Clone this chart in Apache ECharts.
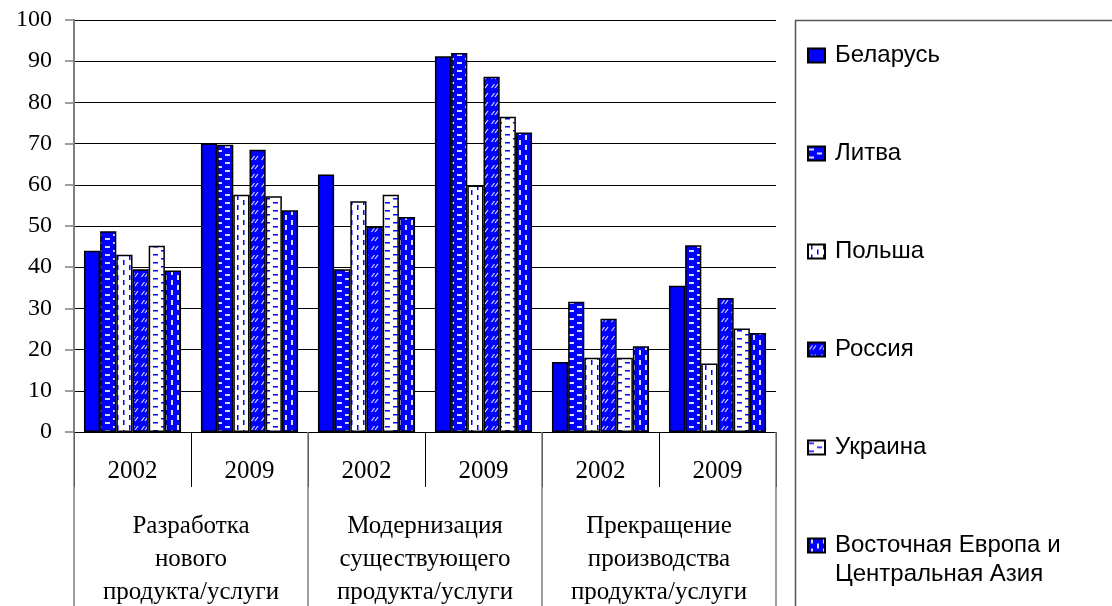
<!DOCTYPE html>
<html>
<head>
<meta charset="utf-8">
<script src="https://cdn.jsdelivr.net/npm/echarts@6/dist/echarts.min.js"></script>
<style>
  html, body { margin: 0; padding: 0; background: #fff; }
  #chart { width: 1112px; height: 606px; }
</style>
</head>
<body>
<div id="chart"></div>
<script>
// Survey years (inner axis) and activity groups (outer axis)
const years = ['2002', '2009', '2002', '2009', '2002', '2009'];
const groups = [
  'Разработка\nнового\nпродукта/услуги',
  'Модернизация\nсуществующего\nпродукта/услуги',
  'Прекращение\nпроизводства\nпродукта/услуги'
];
const countries = ['Беларусь', 'Литва', 'Польша', 'Россия', 'Украина', 'Восточная Европа и Центральная Азия'];

// Share of firms, %
const belarus   = [44.0, 70.0, 62.5, 91.2, 17.0, 35.5];
const lithuania = [48.7, 69.7, 39.5, 92.0, 31.6, 45.3];
const poland    = [43.0, 57.6, 56.0, 59.8, 18.0, 16.6];
const russia    = [39.5, 68.5, 49.8, 86.2, 27.5, 32.5];
const ukraine   = [45.2, 57.2, 57.6, 76.5, 18.0, 25.1];
const eeca      = [39.2, 53.8, 52.2, 72.7, 20.8, 24.0];

const yMin = 0, yMax = 100, yStep = 10;

const BLUE = '#0000ff';
const LIGHT = '#dcdcff';

// Small repeating fill tiles for the hatched bars
function tile(w, h, bg, draw) {
  const c = document.createElement('canvas');
  c.width = w; c.height = h;
  const g = c.getContext('2d');
  g.fillStyle = bg;
  g.fillRect(0, 0, w, h);
  draw(g);
  return { image: c, repeat: 'repeat' };
}

const fills = [
  BLUE,
  // white horizontal dashes on blue, staggered
  tile(16, 8, BLUE, g => {
    g.fillStyle = LIGHT;
    g.fillRect(1, 2, 5, 2);
    g.fillRect(9, 6, 5, 2);
  }),
  // blue vertical dashes on white
  tile(12, 10, '#fff', g => {
    g.fillStyle = BLUE;
    g.fillRect(3, 0, 1.5, 5);
    g.fillRect(9, 5, 1.5, 5);
  }),
  // white short slashes on blue
  tile(10, 9, BLUE, g => {
    g.strokeStyle = LIGHT;
    g.lineWidth = 1.2;
    g.beginPath();
    g.moveTo(1.5, 7); g.lineTo(4.5, 3);
    g.moveTo(5, 7); g.lineTo(8, 3);
    g.stroke();
  }),
  // blue horizontal dashes on white, staggered
  tile(16, 8, '#fff', g => {
    g.fillStyle = BLUE;
    g.fillRect(1, 2, 5, 1.5);
    g.fillRect(9, 6, 5, 1.5);
  }),
  // white vertical dashes on blue
  tile(12, 10, BLUE, g => {
    g.fillStyle = LIGHT;
    g.fillRect(3, 0, 2, 5);
    g.fillRect(9, 5, 2, 5);
  })
];

const values = [belarus, lithuania, poland, russia, ukraine, eeca];

const serif = "'Liberation Serif', 'Times New Roman', serif";
const sans = "'Liberation Sans', Arial, sans-serif";

const chart = echarts.init(document.getElementById('chart'));
chart.setOption({
  animation: false,
  backgroundColor: '#fff',
  textStyle: { fontFamily: serif, color: '#000' },
  grid: { left: 74, top: 20, width: 702, height: 412, containLabel: false, outerBoundsMode: 'none' },
  xAxis: [
    {
      type: 'category',
      data: years,
      position: 'bottom',
      axisLine: { show: true, lineStyle: { color: '#000', width: 1.2 } },
      axisTick: { show: true, interval: 0, length: 55, lineStyle: { color: '#000', width: 1 } },
      axisLabel: { interval: 0, margin: 24, fontSize: 25, lineHeight: 30, fontFamily: serif, color: '#000' },
      splitLine: { show: false }
    },
    {
      type: 'category',
      data: groups,
      position: 'bottom',
      axisLine: { show: false },
      axisTick: { show: true, interval: 0, length: 180, lineStyle: { color: '#808080', width: 1.5 } },
      axisLabel: { interval: 0, margin: 78, fontSize: 25, lineHeight: 33, fontFamily: serif, color: '#000' },
      splitLine: { show: false }
    }
  ],
  yAxis: {
    type: 'value',
    min: yMin,
    max: yMax,
    interval: yStep,
    axisLine: { show: true, lineStyle: { color: '#808080', width: 2 } },
    axisTick: { show: true, length: 9, lineStyle: { color: '#808080', width: 1.5 } },
    axisLabel: { margin: 22, fontSize: 24, fontFamily: serif, color: '#000' },
    splitLine: { show: true, lineStyle: { color: '#000', width: 1 } }
  },
  legend: {
    orient: 'vertical',
    left: 807,
    top: 12,
    padding: 0,
    itemWidth: 17,
    itemHeight: 14,
    itemGap: 11,
    icon: 'rect',
    selectedMode: false,
    data: countries,
    formatter: name => name === countries[5]
      ? '\nВосточная Европа и\nЦентральная Азия'
      : '\n' + name + '\n',
    textStyle: { fontFamily: sans, fontSize: 24, lineHeight: 29, color: '#000', padding: [0, 0, 0, 5] }
  },
  graphic: [
    {
      type: 'rect',
      silent: true,
      shape: { x: 795.5, y: 20.5, width: 400, height: 700 },
      style: { fill: 'none', stroke: '#555', lineWidth: 1.5 }
    }
  ],
  series: countries.map((name, i) => ({
    name: name,
    type: 'bar',
    xAxisIndex: 0,
    data: values[i],
    barGap: '0%',
    barCategoryGap: '17%',
    itemStyle: { color: fills[i], borderColor: '#000', borderWidth: 1.5 },
    emphasis: { disabled: true }
  }))
});
</script>
</body>
</html>
